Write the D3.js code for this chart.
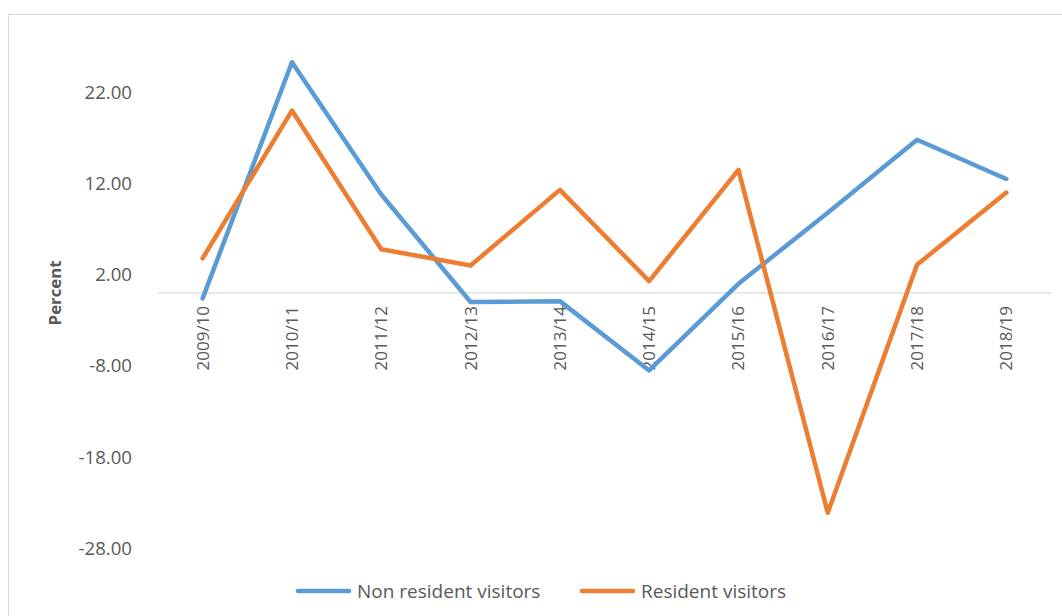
<!DOCTYPE html>
<html><head><meta charset="utf-8">
<script src="https://cdn.jsdelivr.net/npm/d3@7"></script>
<style>body{margin:0;background:#fff}svg{display:block}</style>
</head><body>
<script>
const categories = ["2009/10","2010/11","2011/12","2012/13","2013/14","2014/15","2015/16","2016/17","2017/18","2018/19"];
const nonResident = [-0.6, 25.3, 10.8, -1.0, -0.9, -8.5, 1.0, 8.8, 16.8, 12.5];
const resident = [3.8, 20.0, 4.8, 3.0, 11.3, 1.3, 13.5, -24.1, 3.1, 11.0];
const yTicks = [22, 12, 2, -8, -18, -28];
const seriesNames = ["Non resident visitors", "Resident visitors"];
const colors = ["#5B9BD5", "#ED7D31"];

const W = 1062, H = 616;
const font = "'Open Sans', sans-serif";
const svg = d3.select("body").append("svg").attr("width", W).attr("height", H);

svg.append("rect").attr("x", 8.5).attr("y", 14.5).attr("width", 1100).attr("height", 700)
  .attr("fill", "#fff").attr("stroke", "#D9D9D9").attr("stroke-width", 1);

const x = d3.scaleBand().domain(categories).range([158, 1051]);
const y = d3.scaleLinear().domain([-28, 22]).range([548.3, 92.3]);

// zero axis line
svg.append("line").attr("x1", 158).attr("x2", 1051).attr("y1", y(0)).attr("y2", y(0))
  .attr("stroke", "#D9D9D9").attr("stroke-width", 1.3);

// y axis labels
const fmt = v => v.toFixed(2);
const yAxis = d3.axisLeft(y).tickValues(yTicks).tickFormat(fmt).tickSize(0).tickPadding(0);
const yg = svg.append("g").attr("transform", "translate(132,0)").call(yAxis);
yg.select(".domain").remove();
yg.selectAll("text").attr("font-family", font).attr("font-size", 18.6).attr("fill", "#595959");

// x axis labels (rotated)
const xAxis = d3.axisBottom(x).tickSize(0).tickPadding(0);
const xg = svg.append("g").attr("transform", `translate(0,${y(0)})`).call(xAxis);
xg.select(".domain").remove();
xg.selectAll("text").attr("font-family", font).attr("font-size", 17).attr("fill", "#595959")
  .attr("text-anchor", "end").attr("dy", "0.35em")
  .attr("transform", "translate(0,13) rotate(-90)").attr("x", 0).attr("y", 0);

// y title
svg.append("text").attr("transform", `translate(61,${y(0)}) rotate(-90)`)
  .attr("text-anchor", "middle").attr("font-family", font).attr("font-size", 16.8)
  .attr("font-weight", "bold").attr("fill", "#595959").text("Percent");

const line = d3.line().x((d, i) => x(categories[i]) + x.bandwidth() / 2).y(d => y(d));
[nonResident, resident].forEach((s, k) => {
  svg.append("path").datum(s).attr("d", line).attr("fill", "none")
    .attr("stroke", colors[k]).attr("stroke-width", 4.5).attr("stroke-linejoin", "round").attr("stroke-linecap", "round");
});

// legend
const legendX = [298, 582];
seriesNames.forEach((n, k) => {
  const g = svg.append("g").attr("transform", `translate(${legendX[k]},591)`);
  g.append("line").attr("x1", 0).attr("x2", 51).attr("y1", 0).attr("y2", 0)
    .attr("stroke", colors[k]).attr("stroke-width", 4.5).attr("stroke-linecap", "round");
  g.append("text").attr("x", 59).attr("y", 0).attr("dy", "0.35em").attr("font-family", font)
    .attr("font-size", 19).attr("fill", "#595959").text(n);
});
</script>
</body></html>
